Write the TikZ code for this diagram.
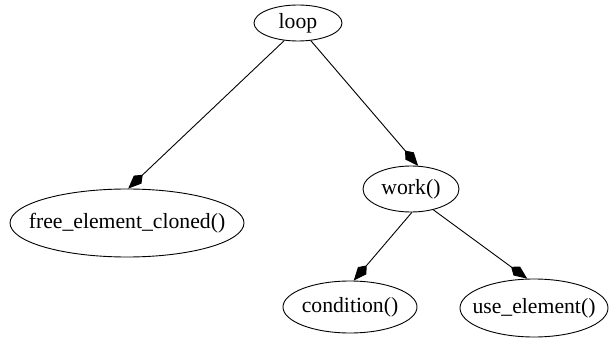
\documentclass[tikz,border=0pt]{standalone}
\usepackage{fontspec}
\setmainfont{Liberation Serif}
\usetikzlibrary{shapes.geometric,arrows.meta}
\begin{document}
\begin{tikzpicture}[x=1pt,y=-1pt,
  nd/.style={draw,ellipse,inner xsep=-100pt,inner ysep=-40pt,line width=0.9pt,font=\fontsize{21.7}{26}\selectfont},
  edge/.style={line width=0.9pt,-{Kite[length=20pt,width=11pt,inset=7pt]}}]
\useasboundingbox (0,0) rectangle (610,339);
\node[nd,minimum width=88pt,minimum height=36pt] (loop) at (298,23) {loop};
\node[nd,minimum width=234pt,minimum height=68pt] (free) at (127,223) {free\_element\_cloned()};
\node[nd,minimum width=96pt,minimum height=46pt] (work) at (411,189) {work()};
\node[nd,minimum width=134pt,minimum height=52pt] (cond) at (350,307) {condition()};
\node[nd,minimum width=148pt,minimum height=58pt] (use) at (534,308) {use\_element()};
\draw[edge] (loop.-128) -- (free.88);
\draw[edge] (loop.-54) -- (work.73);
\draw[edge] (work.-88) -- (cond.82);
\draw[edge] (work.-43) -- (use.103);
\end{tikzpicture}
\end{document}
